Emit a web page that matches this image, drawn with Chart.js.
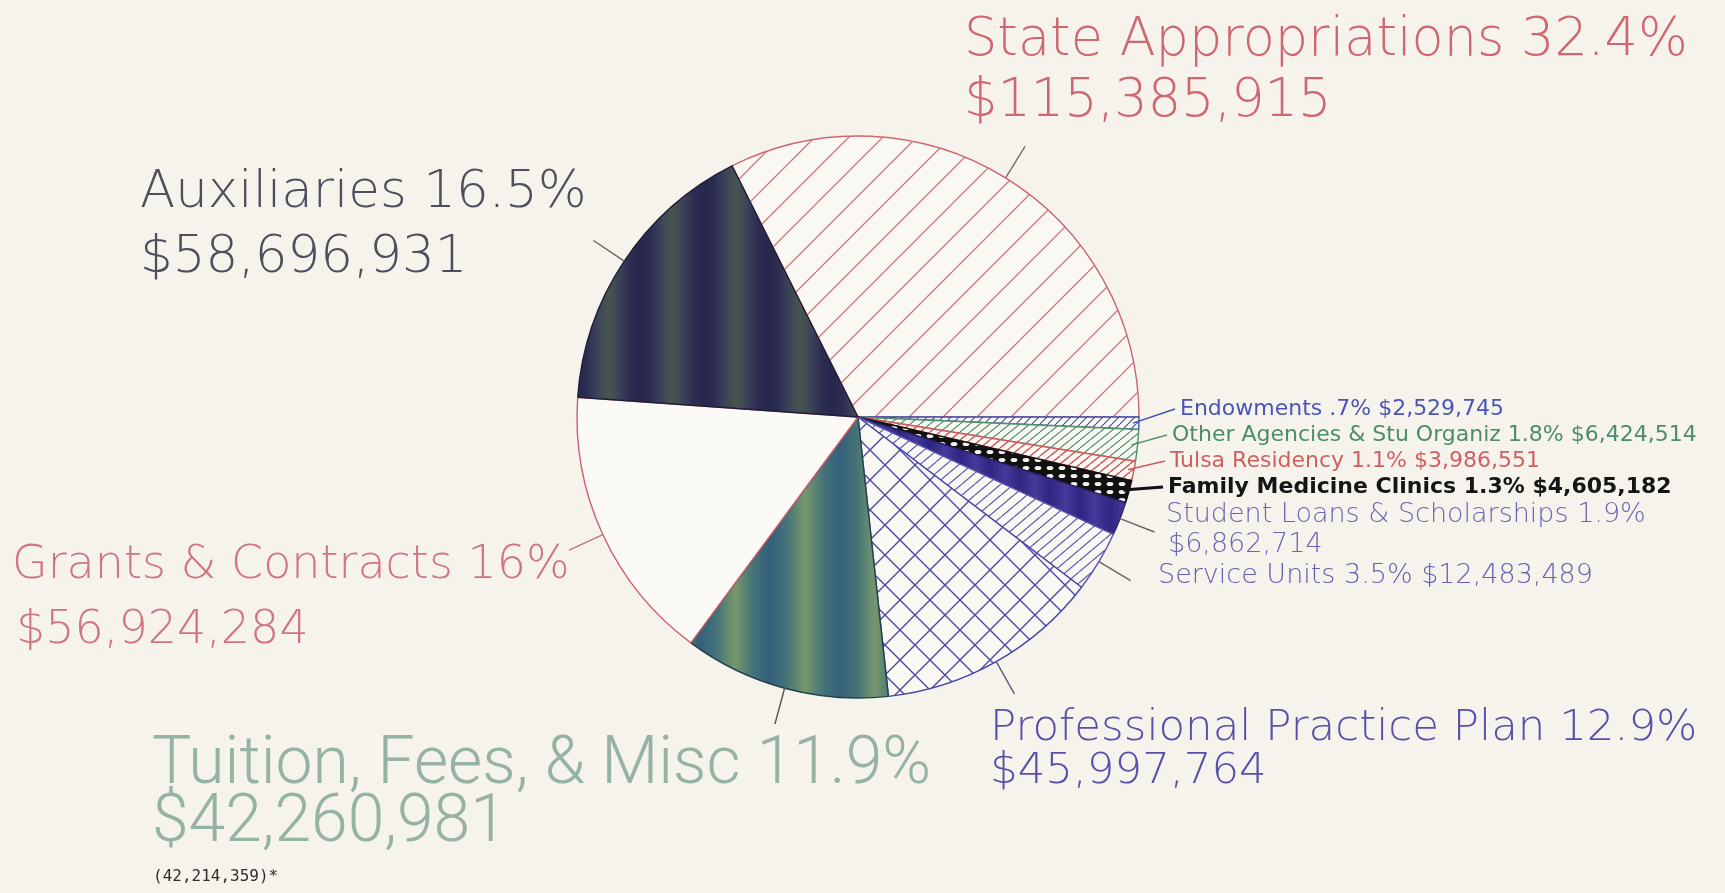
<!DOCTYPE html>
<html lang="en">
<head>
<meta charset="utf-8">
<title>Revenue by Source</title>
<script src="https://cdn.jsdelivr.net/npm/chart.js@4.4.1/dist/chart.umd.min.js"></script>
<style>
  body { margin: 0; background: #f6f3ec; }
  canvas { display: block; }
</style>
</head>
<body>
<canvas id="revenue_chart" width="1725" height="893"></canvas>
<script>
// slices run clockwise, starting at the State / Auxiliaries edge
const categories = [
  'State Appropriations',
  'Endowments',
  'Other Agencies & Stu Organiz',
  'Tulsa Residency',
  'Family Medicine Clinics',
  'Student Loans & Scholarships',
  'Service Units',
  'Professional Practice Plan',
  'Tuition, Fees, & Misc',
  'Grants & Contracts',
  'Auxiliaries'
];
const amounts = [115385915, 2529745, 6424514, 3986551, 4605182, 6862714, 12483489, 45997764, 42260981, 56924284, 58696931];
const shares = ['32.4%', '.7%', '1.8%', '1.1%', '1.3%', '1.9%', '3.5%', '12.9%', '11.9%', '16%', '16.5%'];
const tuitionNote = '(42,214,359)*';

const total = amounts.reduce((a, b) => a + b, 0);
const PAPER = '#f6f3ec';

function money(v) {
  return '$' + v.toLocaleString('en-US');
}

// diagonal hatch, one line per w x h tile (cross adds the other diagonal)
function hatch(w, h, color, lw, cross, bg) {
  const c = document.createElement('canvas');
  c.width = w; c.height = h;
  const g = c.getContext('2d');
  g.fillStyle = bg || '#faf8f2';
  g.fillRect(0, 0, w, h);
  g.strokeStyle = color;
  g.lineWidth = lw;
  g.beginPath();
  for (let k = -1; k <= 1; k++) {
    g.moveTo(k * w, h); g.lineTo(k * w + w, 0);
    if (cross) { g.moveTo(k * w, 0); g.lineTo(k * w + w, h); }
  }
  g.stroke();
  return g.createPattern(c, 'repeat');
}

// soft vertical colour bands
function bands(w, colors) {
  const c = document.createElement('canvas');
  c.width = w; c.height = 4;
  const g = c.getContext('2d');
  const grad = g.createLinearGradient(0, 0, w, 0);
  colors.forEach((col, i) => grad.addColorStop(i / (colors.length - 1), col));
  g.fillStyle = grad;
  g.fillRect(0, 0, w, 4);
  return g.createPattern(c, 'repeat');
}

// black screen with small white holes
function holes(w, h) {
  const c = document.createElement('canvas');
  c.width = w; c.height = h;
  const g = c.getContext('2d');
  g.fillStyle = '#111';
  g.fillRect(0, 0, w, h);
  g.fillStyle = '#f4f2ee';
  g.beginPath();
  g.ellipse(w / 2, h / 2, w * 0.28, h * 0.26, 0, 0, Math.PI * 2);
  g.fill();
  return g.createPattern(c, 'repeat');
}

const fills = [
  hatch(34, 34, '#d8707c', 1.3),
  hatch(8, 8, '#4050b4', 1.2),
  hatch(10, 8, '#4f9070', 1.2),
  hatch(10, 8, '#d05a62', 1.4),
  holes(12, 8),
  bands(30, ['#2e2680', '#443a9c', '#2e2680']),
  hatch(13, 11, '#5a54b4', 1.2),
  hatch(30, 30, '#4a48a8', 1.4, true),
  bands(70, ['#34607a', '#467478', '#76976c', '#467478', '#34607a']),
  '#fbfaf6',
  bands(64, ['#28274c', '#2d2d54', '#3c4458', '#48554f', '#3c4458', '#2d2d54', '#28274c'])
];
const edges = ['#d06470', '#3d4fb0', '#4f8f6a', '#d05a60', '#111111', '#2a2270', '#5a52b0', '#4646a6', '#24404e', '#d0606c', '#201e38'];

const THIN = '"DejaVu Sans", sans-serif';
// where each slice's caption sits (baselines) and how it is tied to the pie
const labelLayout = [
  { x: 964, y: [55, 116], font: '200 52.5px ' + THIN, color: '#cf6670', line: '#707070' },
  { x: 1180, y: [415], font: '22px "DejaVu Sans"', color: '#4a55b5', line: '#3d4fb0', link: true },
  { x: 1172, y: [441], font: '22px "DejaVu Sans"', color: '#4c8c6c', line: '#4f8f6a', link: true },
  { x: 1170, y: [467], font: '22px "DejaVu Sans"', color: '#d06060', line: '#d05a60', link: true },
  { x: 1168, y: [493], font: 'bold 22px "DejaVu Sans"', color: '#151515', line: '#111', link: true, width: 3 },
  { x: 1166, y: [522, 552], dx: 2, font: '200 27px ' + THIN, color: '#6c66b2', line: '#666' },
  { x: 1158, y: [583], font: '200 27px ' + THIN, color: '#6660b0', line: '#666' },
  { x: 990, y: [740, 783], font: '200 43.5px ' + THIN, color: '#5650aa', line: '#5a5a7a' },
  { x: 152, y: [783, 841], font: '300 66px Roboto, "Liberation Sans"', color: '#96b2a4', line: '#555' },
  { x: 12, y: [578, 643], dx: 4, font: '200 46px ' + THIN, color: '#d07680', line: '#c8707a' },
  { x: 140, y: [207, 272], font: '200 51.5px ' + THIN, color: '#4e4e5c', line: '#666' }
];

const paper = {
  id: 'paper',
  beforeDraw(chart) {
    const ctx = chart.ctx;
    ctx.save();
    ctx.fillStyle = PAPER;
    ctx.fillRect(0, 0, chart.width, chart.height);
    ctx.restore();
  }
};

const sliceLabels = {
  id: 'sliceLabels',
  afterDatasetsDraw(chart) {
    const ctx = chart.ctx;
    const arcs = chart.getDatasetMeta(0).data;
    arcs.forEach((arc, i) => {
      const { x, y, startAngle, endAngle, outerRadius } =
        arc.getProps(['x', 'y', 'startAngle', 'endAngle', 'outerRadius'], true);
      const mid = (startAngle + endAngle) / 2;
      const cos = Math.cos(mid), sin = Math.sin(mid);
      const L = labelLayout[i];

      ctx.save();
      ctx.strokeStyle = L.line;
      ctx.lineWidth = L.width || 1.4;
      ctx.beginPath();
      if (L.link) {
        ctx.moveTo(x + cos * (outerRadius - 6), y + sin * (outerRadius - 6));
        ctx.lineTo(L.x - 5, L.y[0] - 6);
      } else {
        ctx.moveTo(x + cos * outerRadius, y + sin * outerRadius);
        ctx.lineTo(x + cos * (outerRadius + 37), y + sin * (outerRadius + 37));
      }
      ctx.stroke();

      ctx.font = L.font;
      ctx.fillStyle = L.color;
      const head = categories[i] + ' ' + shares[i];
      const lines = L.y.length > 1 ? [head, money(amounts[i])] : [head + ' ' + money(amounts[i])];
      lines.forEach((t, k) => ctx.fillText(t, L.x + (k ? (L.dx || 0) : 0), L.y[k]));
      ctx.restore();
    });

    ctx.save();
    ctx.font = '16px "DejaVu Sans Mono"';
    ctx.fillStyle = '#2e2e2e';
    ctx.fillText(tuitionNote, 153, 881);
    ctx.restore();
  }
};

const R = 281;
const CX = 858, CY = 417;
new Chart(document.getElementById('revenue_chart'), {
  type: 'pie',
  data: {
    labels: categories,
    datasets: [{
      data: amounts,
      backgroundColor: fills,
      borderColor: edges,
      borderWidth: 1.4
    }]
  },
  options: {
    responsive: false,
    animation: false,
    radius: R,
    rotation: 90 - 360 * amounts[0] / total,
    layout: { padding: { left: CX - R, right: 1725 - CX - R, top: CY - R, bottom: 893 - CY - R } },
    plugins: {
      legend: { display: false },
      tooltip: { enabled: false }
    }
  },
  plugins: [paper, sliceLabels]
});
</script>
</body>
</html>
